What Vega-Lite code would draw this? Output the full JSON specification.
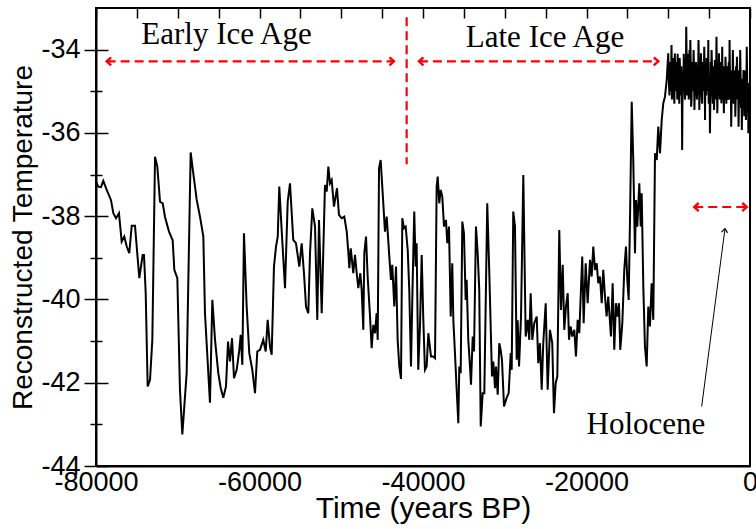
{
  "$schema": "https://vega.github.io/schema/vega-lite/v6.json",
  "width": 654,
  "height": 458,
  "autosize": "none",
  "padding": {"left": 96, "top": 8, "right": 6, "bottom": 63},
  "background": "white",
  "config": {
    "view": {"stroke": "black", "strokeWidth": 2},
    "axis": {
      "domainColor": "black",
      "domainWidth": 2,
      "tickColor": "black",
      "tickWidth": 1.5,
      "labelFont": "Liberation Sans",
      "labelFontSize": 27,
      "labelColor": "black",
      "titleFont": "Liberation Sans",
      "titleColor": "black",
      "titleFontWeight": "normal"
    }
  },
  "datasets": {
    "ice": [
      {"t":-80000,"v":-37.17},{"t":-79720,"v":-37.29},{"t":-79390,"v":-37.30},{"t":-79110,"v":-37.15},{"t":-78690,"v":-37.37},{"t":-78170,"v":-37.61},{"t":-77880,"v":-37.93},{"t":-77550,"v":-38.05},{"t":-77190,"v":-37.93},{"t":-76860,"v":-38.61},{"t":-76540,"v":-38.49},{"t":-76240,"v":-38.73},{"t":-75930,"v":-38.89},{"t":-75630,"v":-38.23},{"t":-75230,"v":-38.23},{"t":-74700,"v":-39.49},{"t":-74290,"v":-38.93},{"t":-74130,"v":-38.93},{"t":-73920,"v":-39.85},{"t":-73680,"v":-42.09},{"t":-73390,"v":-41.93},{"t":-73110,"v":-40.97},{"t":-72780,"v":-36.57},{"t":-72500,"v":-36.81},{"t":-72170,"v":-37.65},{"t":-71840,"v":-37.69},{"t":-71560,"v":-38.02},{"t":-71070,"v":-38.37},{"t":-70620,"v":-38.58},{"t":-70420,"v":-39.29},{"t":-70050,"v":-39.49},{"t":-69730,"v":-42.17},{"t":-69440,"v":-43.24},{"t":-68910,"v":-41.77},{"t":-68420,"v":-36.47},{"t":-68100,"v":-36.97},{"t":-67680,"v":-37.61},{"t":-67280,"v":-38.01},{"t":-66870,"v":-38.49},{"t":-66670,"v":-40.33},{"t":-66060,"v":-42.48},{"t":-65770,"v":-40.01},{"t":-65440,"v":-40.97},{"t":-65040,"v":-41.77},{"t":-64750,"v":-42.12},{"t":-64430,"v":-42.36},{"t":-64100,"v":-42.09},{"t":-63850,"v":-41.01},{"t":-63610,"v":-41.49},{"t":-63360,"v":-40.93},{"t":-63120,"v":-41.89},{"t":-62790,"v":-41.69},{"t":-62470,"v":-41.21},{"t":-62300,"v":-40.85},{"t":-62100,"v":-41.57},{"t":-61900,"v":-38.41},{"t":-61570,"v":-40.17},{"t":-61250,"v":-41.29},{"t":-60880,"v":-41.69},{"t":-60550,"v":-42.25},{"t":-60270,"v":-41.25},{"t":-59940,"v":-41.21},{"t":-59540,"v":-40.97},{"t":-59240,"v":-41.25},{"t":-59000,"v":-40.49},{"t":-58720,"v":-41.13},{"t":-58510,"v":-41.33},{"t":-58230,"v":-39.21},{"t":-57980,"v":-38.73},{"t":-57770,"v":-38.49},{"t":-57580,"v":-37.29},{"t":-57290,"v":-38.33},{"t":-56880,"v":-39.73},{"t":-56550,"v":-37.65},{"t":-56270,"v":-37.21},{"t":-55870,"v":-38.57},{"t":-55540,"v":-38.65},{"t":-55130,"v":-39.21},{"t":-54840,"v":-38.65},{"t":-54560,"v":-39.37},{"t":-54310,"v":-40.17},{"t":-54030,"v":-40.33},{"t":-53820,"v":-38.89},{"t":-53540,"v":-37.81},{"t":-53210,"v":-38.25},{"t":-52930,"v":-40.49},{"t":-52720,"v":-38.09},{"t":-52390,"v":-40.33},{"t":-51990,"v":-37.25},{"t":-51780,"v":-37.41},{"t":-51580,"v":-36.81},{"t":-51380,"v":-37.21},{"t":-51170,"v":-37.13},{"t":-50890,"v":-37.77},{"t":-50520,"v":-37.33},{"t":-50280,"v":-37.97},{"t":-49950,"v":-38.05},{"t":-49630,"v":-38.01},{"t":-49330,"v":-38.37},{"t":-49140,"v":-38.85},{"t":-49010,"v":-39.25},{"t":-48840,"v":-38.77},{"t":-48530,"v":-39.37},{"t":-48320,"v":-38.93},{"t":-48110,"v":-39.37},{"t":-47910,"v":-39.73},{"t":-47670,"v":-39.37},{"t":-47500,"v":-39.77},{"t":-47300,"v":-40.73},{"t":-47180,"v":-38.89},{"t":-46970,"v":-38.49},{"t":-46770,"v":-39.45},{"t":-46480,"v":-40.41},{"t":-46280,"v":-41.17},{"t":-46080,"v":-40.61},{"t":-45870,"v":-40.81},{"t":-45670,"v":-40.33},{"t":-45540,"v":-40.97},{"t":-45380,"v":-36.85},{"t":-45180,"v":-36.65},{"t":-44980,"v":-37.29},{"t":-44650,"v":-38.37},{"t":-44440,"v":-38.01},{"t":-44120,"v":-38.97},{"t":-43920,"v":-39.53},{"t":-43760,"v":-39.17},{"t":-43510,"v":-40.17},{"t":-43300,"v":-39.21},{"t":-43100,"v":-40.97},{"t":-42900,"v":-41.61},{"t":-42690,"v":-41.91},{"t":-42530,"v":-38.05},{"t":-42330,"v":-38.29},{"t":-42120,"v":-38.25},{"t":-41870,"v":-38.81},{"t":-41680,"v":-39.77},{"t":-41470,"v":-41.61},{"t":-41260,"v":-39.53},{"t":-41070,"v":-37.89},{"t":-40900,"v":-39.21},{"t":-40780,"v":-38.65},{"t":-40580,"v":-41.69},{"t":-40370,"v":-40.65},{"t":-40160,"v":-38.93},{"t":-39960,"v":-40.49},{"t":-39760,"v":-41.69},{"t":-39550,"v":-41.61},{"t":-39350,"v":-40.81},{"t":-39020,"v":-41.37},{"t":-38740,"v":-41.37},{"t":-38530,"v":-41.41},{"t":-38330,"v":-37.29},{"t":-38200,"v":-37.05},{"t":-38010,"v":-37.69},{"t":-37840,"v":-37.37},{"t":-37640,"v":-37.53},{"t":-37430,"v":-38.25},{"t":-37190,"v":-38.09},{"t":-37030,"v":-38.65},{"t":-36820,"v":-38.25},{"t":-36610,"v":-40.41},{"t":-36420,"v":-39.13},{"t":-36290,"v":-40.49},{"t":-36090,"v":-41.29},{"t":-35880,"v":-42.17},{"t":-35680,"v":-42.97},{"t":-35560,"v":-41.61},{"t":-35390,"v":-41.77},{"t":-35190,"v":-38.13},{"t":-34990,"v":-38.41},{"t":-34780,"v":-40.01},{"t":-34660,"v":-39.53},{"t":-34460,"v":-40.97},{"t":-34250,"v":-41.61},{"t":-34130,"v":-42.05},{"t":-33920,"v":-40.89},{"t":-33760,"v":-41.25},{"t":-33520,"v":-38.25},{"t":-33310,"v":-38.89},{"t":-33120,"v":-39.77},{"t":-32940,"v":-43.05},{"t":-32700,"v":-42.25},{"t":-32500,"v":-42.25},{"t":-32140,"v":-37.69},{"t":-31890,"v":-39.37},{"t":-31560,"v":-41.85},{"t":-31400,"v":-41.49},{"t":-31190,"v":-42.13},{"t":-31070,"v":-41.61},{"t":-30860,"v":-42.29},{"t":-30670,"v":-41.05},{"t":-30500,"v":-41.21},{"t":-30340,"v":-41.45},{"t":-30090,"v":-42.57},{"t":-29760,"v":-42.36},{"t":-29520,"v":-42.25},{"t":-29270,"v":-41.29},{"t":-29150,"v":-41.69},{"t":-28960,"v":-37.89},{"t":-28750,"v":-38.25},{"t":-28540,"v":-41.45},{"t":-28420,"v":-40.5},{"t":-28250,"v":-41.61},{"t":-28010,"v":-40.41},{"t":-27730,"v":-37.01},{"t":-27440,"v":-40.89},{"t":-27190,"v":-40.49},{"t":-27000,"v":-40.97},{"t":-26830,"v":-39.85},{"t":-26630,"v":-40.97},{"t":-26390,"v":-40.57},{"t":-26090,"v":-40.41},{"t":-25900,"v":-41.53},{"t":-25690,"v":-41.05},{"t":-25480,"v":-42.17},{"t":-25290,"v":-41.05},{"t":-24990,"v":-40.09},{"t":-24750,"v":-42.17},{"t":-24470,"v":-40.73},{"t":-24190,"v":-41.05},{"t":-23980,"v":-42.73},{"t":-23770,"v":-42.01},{"t":-23570,"v":-41.85},{"t":-23330,"v":-38.33},{"t":-23120,"v":-40.25},{"t":-22910,"v":-39.17},{"t":-22720,"v":-40.73},{"t":-22510,"v":-40.17},{"t":-22300,"v":-39.85},{"t":-22140,"v":-40.97},{"t":-21940,"v":-40.65},{"t":-21740,"v":-40.89},{"t":-21490,"v":-40.73},{"t":-21290,"v":-41.37},{"t":-21080,"v":-40.49},{"t":-20880,"v":-40.81},{"t":-20680,"v":-39.77},{"t":-20520,"v":-38.97},{"t":-20350,"v":-40.57},{"t":-20100,"v":-39.13},{"t":-19860,"v":-40.09},{"t":-19570,"v":-39.05},{"t":-19370,"v":-39.45},{"t":-19170,"v":-38.73},{"t":-18960,"v":-39.29},{"t":-18750,"v":-39.13},{"t":-18560,"v":-39.61},{"t":-18350,"v":-39.45},{"t":-18140,"v":-40.09},{"t":-17950,"v":-39.29},{"t":-17740,"v":-39.93},{"t":-17540,"v":-40.41},{"t":-17340,"v":-39.93},{"t":-17010,"v":-40.89},{"t":-16800,"v":-39.61},{"t":-16600,"v":-41.21},{"t":-16400,"v":-40.09},{"t":-16190,"v":-40.41},{"t":-16030,"v":-40.09},{"t":-15870,"v":-41.21},{"t":-15620,"v":-40.57},{"t":-15380,"v":-39.29},{"t":-15170,"v":-38.73},{"t":-15010,"v":-39.53},{"t":-14840,"v":-40.01},{"t":-14680,"v":-38.09},{"t":-14470,"v":-35.25},{"t":-14280,"v":-36.65},{"t":-14070,"v":-38.89},{"t":-13950,"v":-37.61},{"t":-13790,"v":-38.25},{"t":-13540,"v":-37.21},{"t":-13370,"v":-38.25},{"t":-13250,"v":-37.45},{"t":-13050,"v":-39.69},{"t":-12850,"v":-41.13},{"t":-12640,"v":-41.61},{"t":-12440,"v":-40.17},{"t":-12240,"v":-40.65},{"t":-12030,"v":-39.61},{"t":-11830,"v":-40.49},{"t":-11620,"v":-36.49},{"t":-11410,"v":-36.65},{"t":-11220,"v":-35.85},{"t":-11010,"v":-36.49},{"t":-10800,"v":-35.69},{"t":-10610,"v":-35.29},{"t":-10400,"v":-35.13},{"t":-10190,"v":-34.73},{"t":-10000,"v":-34.09},
      {"t":-9950,"v":-34.6},{"t":-9900,"v":-34.9},{"t":-9850,"v":-35.1},{"t":-9800,"v":-34.3},{"t":-9750,"v":-34.5},{"t":-9700,"v":-35.0},{"t":-9650,"v":-34.7},{"t":-9600,"v":-33.89},{"t":-9550,"v":-35.2},{"t":-9500,"v":-34.8},{"t":-9450,"v":-34.2},{"t":-9400,"v":-34.4},{"t":-9350,"v":-34.7},{"t":-9300,"v":-35.1},{"t":-9250,"v":-35.3},{"t":-9200,"v":-34.09},{"t":-9150,"v":-34.4},{"t":-9100,"v":-34.9},{"t":-9050,"v":-35.0},{"t":-9000,"v":-34.3},{"t":-8950,"v":-34.5},{"t":-8900,"v":-35.2},{"t":-8850,"v":-34.1},{"t":-8800,"v":-34.5},{"t":-8750,"v":-34.6},{"t":-8700,"v":-35.0},{"t":-8650,"v":-35.3},{"t":-8600,"v":-34.2},{"t":-8550,"v":-34.5},{"t":-8500,"v":-34.89},{"t":-8450,"v":-35.1},{"t":-8400,"v":-34.4},{"t":-8350,"v":-34.7},{"t":-8300,"v":-36.41},{"t":-8250,"v":-35.0},{"t":-8200,"v":-34.6},{"t":-8150,"v":-34.9},{"t":-8100,"v":-34.1},{"t":-8050,"v":-34.4},{"t":-8000,"v":-35.0},{"t":-7950,"v":-35.2},{"t":-7900,"v":-34.3},{"t":-7850,"v":-34.8},{"t":-7800,"v":-33.45},{"t":-7750,"v":-34.2},{"t":-7700,"v":-35.1},{"t":-7650,"v":-34.8},{"t":-7600,"v":-34.4},{"t":-7550,"v":-34.1},{"t":-7500,"v":-35.2},{"t":-7450,"v":-35.1},{"t":-7400,"v":-34.0},{"t":-7350,"v":-34.9},{"t":-7300,"v":-33.77},{"t":-7250,"v":-34.3},{"t":-7200,"v":-35.37},{"t":-7150,"v":-35.2},{"t":-7100,"v":-34.5},{"t":-7050,"v":-34.3},{"t":-7000,"v":-35.0},{"t":-6950,"v":-34.8},{"t":-6900,"v":-34.01},{"t":-6850,"v":-34.4},{"t":-6800,"v":-35.45},{"t":-6750,"v":-35.0},{"t":-6700,"v":-34.6},{"t":-6650,"v":-35.1},{"t":-6600,"v":-34.3},{"t":-6550,"v":-34.5},{"t":-6500,"v":-35.2},{"t":-6450,"v":-35.0},{"t":-6400,"v":-34.49},{"t":-6350,"v":-34.9},{"t":-6300,"v":-33.77},{"t":-6250,"v":-34.3},{"t":-6200,"v":-35.45},{"t":-6150,"v":-35.1},{"t":-6100,"v":-34.6},{"t":-6050,"v":-34.8},{"t":-6000,"v":-34.09},{"t":-5950,"v":-34.4},{"t":-5900,"v":-35.1},{"t":-5850,"v":-35.3},{"t":-5800,"v":-34.5},{"t":-5750,"v":-34.3},{"t":-5700,"v":-34.89},{"t":-5650,"v":-35.0},{"t":-5600,"v":-33.93},{"t":-5550,"v":-34.4},{"t":-5500,"v":-35.69},{"t":-5450,"v":-34.3},{"t":-5400,"v":-34.6},{"t":-5350,"v":-35.1},{"t":-5300,"v":-34.2},{"t":-5250,"v":-34.5},{"t":-5200,"v":-35.0},{"t":-5150,"v":-34.8},{"t":-5100,"v":-33.77},{"t":-5050,"v":-35.3},{"t":-5000,"v":-34.9},{"t":-4950,"v":-34.6},{"t":-4900,"v":-36.01},{"t":-4850,"v":-35.2},{"t":-4800,"v":-34.3},{"t":-4750,"v":-35.0},{"t":-4700,"v":-34.01},{"t":-4650,"v":-34.4},{"t":-4600,"v":-35.1},{"t":-4550,"v":-35.3},{"t":-4500,"v":-34.5},{"t":-4450,"v":-34.4},{"t":-4400,"v":-35.45},{"t":-4350,"v":-35.0},{"t":-4300,"v":-34.25},{"t":-4250,"v":-35.2},{"t":-4200,"v":-34.8},{"t":-4150,"v":-34.9},{"t":-4100,"v":-33.69},{"t":-4050,"v":-34.5},{"t":-4000,"v":-35.53},{"t":-3950,"v":-35.0},{"t":-3900,"v":-34.6},{"t":-3850,"v":-35.1},{"t":-3800,"v":-34.09},{"t":-3750,"v":-34.5},{"t":-3700,"v":-35.2},{"t":-3650,"v":-34.3},{"t":-3600,"v":-34.7},{"t":-3550,"v":-34.6},{"t":-3500,"v":-35.29},{"t":-3450,"v":-35.0},{"t":-3400,"v":-33.93},{"t":-3350,"v":-35.2},{"t":-3300,"v":-34.9},{"t":-3250,"v":-34.4},{"t":-3200,"v":-35.53},{"t":-3150,"v":-34.9},{"t":-3100,"v":-34.4},{"t":-3050,"v":-35.2},{"t":-3000,"v":-34.17},{"t":-2950,"v":-34.5},{"t":-2900,"v":-35.3},{"t":-2850,"v":-35.1},{"t":-2800,"v":-34.6},{"t":-2750,"v":-34.4},{"t":-2700,"v":-35.21},{"t":-2650,"v":-35.0},{"t":-2600,"v":-34.3},{"t":-2550,"v":-35.2},{"t":-2500,"v":-33.77},{"t":-2450,"v":-34.6},{"t":-2400,"v":-35.0},{"t":-2350,"v":-34.7},{"t":-2300,"v":-35.85},{"t":-2250,"v":-35.2},{"t":-2200,"v":-34.5},{"t":-2150,"v":-35.0},{"t":-2100,"v":-34.01},{"t":-2050,"v":-34.5},{"t":-2000,"v":-35.3},{"t":-1950,"v":-35.1},{"t":-1900,"v":-34.7},{"t":-1850,"v":-34.5},{"t":-1800,"v":-35.61},{"t":-1750,"v":-35.2},{"t":-1700,"v":-34.4},{"t":-1650,"v":-34.9},{"t":-1600,"v":-34.17},{"t":-1550,"v":-34.6},{"t":-1500,"v":-35.2},{"t":-1450,"v":-34.5},{"t":-1400,"v":-35.85},{"t":-1350,"v":-35.2},{"t":-1300,"v":-34.6},{"t":-1250,"v":-35.1},{"t":-1200,"v":-34.01},{"t":-1150,"v":-34.6},{"t":-1100,"v":-35.4},{"t":-1050,"v":-34.7},{"t":-1000,"v":-35.93},{"t":-950,"v":-35.3},{"t":-900,"v":-34.8},{"t":-850,"v":-35.4},{"t":-800,"v":-34.49},{"t":-750,"v":-34.7},{"t":-700,"v":-35.6},{"t":-650,"v":-34.6},{"t":-600,"v":-35.0},{"t":-550,"v":-34.5},{"t":-500,"v":-35.69},{"t":-450,"v":-35.3},{"t":-400,"v":-33.93},{"t":-350,"v":-34.6},{"t":-300,"v":-35.5},{"t":-250,"v":-34.8},{"t":-200,"v":-36.01},{"t":-150,"v":-35.7},{"t":-100,"v":-35.3},{"t":-50,"v":-34.9},{"t":0,"v":-36.17}
    ],
    "redlines": [
      {"x1": -78700, "x2": -43550, "y1": -34.28, "y2": -34.28},
      {"x1": -40500, "x2": -11220, "y1": -34.28, "y2": -34.28},
      {"x1": -6820, "x2": -400, "y1": -37.78, "y2": -37.78},
      {"x1": -42000, "x2": -42000, "y1": -33.22, "y2": -36.75}
    ],
    "heads": [
      {"x": -78700, "y": -34.28, "dir": "left"},
      {"x": -43550, "y": -34.28, "dir": "right"},
      {"x": -40500, "y": -34.28, "dir": "left"},
      {"x": -11220, "y": -34.28, "dir": "right"},
      {"x": -6820, "y": -37.78, "dir": "left"},
      {"x": -400, "y": -37.78, "dir": "right"}
    ],
    "pointer": [
      {"x1": -5910, "y1": -42.57, "x2": -3060, "y2": -38.30}
    ],
    "labels": [
      {"x": -64037, "y": -33.87, "text": "Early Ice Age"},
      {"x": -25078, "y": -33.93, "text": "Late Ice Age"},
      {"x": -12724, "y": -43.24, "text": "Holocene"}
    ]
  },
  "layer": [
    {
      "data": {"name": "ice"},
      "mark": {"type": "line", "color": "black", "strokeWidth": 2},
      "encoding": {
        "x": {
          "field": "t", "type": "quantitative",
          "scale": {"domain": [-80000, 0], "nice": false, "zero": false},
          "axis": {
            "orient": "bottom",
            "title": "Time (years BP)",
            "titleFontSize": 30,
            "titlePadding": -2,
            "values": [-80000,-75000,-70000,-65000,-60000,-55000,-50000,-45000,-40000,-35000,-30000,-25000,-20000,-15000,-10000,-5000,0],
            "labelExpr": "datum.value % 20000 === 0 ? '' + datum.value : ''",
            "ticks": false,
            "labelPadding": 3,
            "labelFlush": false,
            "labelOverlap": false,
            "grid": true,
            "gridColor": "black",
            "gridWidth": 1.5,
            "gridOpacity": 1,
            "gridDash": [10, 5000]
          }
        },
        "y": {
          "field": "v", "type": "quantitative",
          "scale": {"domain": [-44, -33], "nice": false, "zero": false},
          "axis": {
            "orient": "left",
            "title": "Reconstructed Temperature",
            "titleFontSize": 28,
            "titlePadding": 3,
            "values": [-44,-43,-42,-41,-40,-39,-38,-37,-36,-35,-34],
            "labelExpr": "datum.value % 2 === 0 ? '' + datum.value : ''",
            "tickSize": {"condition": {"test": "datum.value % 2 === 0", "value": 12}, "value": 6},
            "labelPadding": 4,
            "labelFlush": false,
            "labelOverlap": false,
            "grid": true,
            "gridColor": "black",
            "gridWidth": 1.5,
            "gridOpacity": 1,
            "gridDash": {"condition": {"test": "datum.value % 2 === 0", "value": [12, 5000]}, "value": [6, 5000]}
          }
        }
      }
    },
    {
      "data": {"name": "redlines"},
      "mark": {"type": "rule", "color": "#ff0000", "strokeWidth": 2.2, "strokeDash": [9, 5]},
      "encoding": {
        "x": {"field": "x1", "type": "quantitative"},
        "x2": {"field": "x2"},
        "y": {"field": "y1", "type": "quantitative"},
        "y2": {"field": "y2"}
      }
    },
    {
      "data": {"name": "heads"},
      "transform": [{"filter": "datum.dir === 'left'"}],
      "mark": {"type": "point", "shape": "M1,-0.9L0,0L1,0.9", "size": 80, "filled": false, "color": "#ff0000", "strokeWidth": 2.4, "opacity": 1},
      "encoding": {
        "x": {"field": "x", "type": "quantitative"},
        "y": {"field": "y", "type": "quantitative"}
      }
    },
    {
      "data": {"name": "heads"},
      "transform": [{"filter": "datum.dir === 'right'"}],
      "mark": {"type": "point", "shape": "M-1,-0.9L0,0L-1,0.9", "size": 80, "filled": false, "color": "#ff0000", "strokeWidth": 2.4, "opacity": 1},
      "encoding": {
        "x": {"field": "x", "type": "quantitative"},
        "y": {"field": "y", "type": "quantitative"}
      }
    },
    {
      "data": {"name": "pointer"},
      "mark": {"type": "rule", "color": "black", "strokeWidth": 1},
      "encoding": {
        "x": {"field": "x1", "type": "quantitative"},
        "x2": {"field": "x2"},
        "y": {"field": "y1", "type": "quantitative"},
        "y2": {"field": "y2"}
      }
    },
    {
      "data": {"name": "pointer"},
      "mark": {"type": "point", "shape": "M-0.8,1L0,0L0.8,1", "size": 60, "filled": false, "color": "black", "strokeWidth": 1.2, "opacity": 1, "angle": 7.5},
      "encoding": {
        "x": {"field": "x2", "type": "quantitative"},
        "y": {"field": "y2", "type": "quantitative"}
      }
    },
    {
      "data": {"name": "labels"},
      "mark": {"type": "text", "font": "Liberation Serif", "fontSize": 31, "color": "black", "align": "center", "baseline": "alphabetic"},
      "encoding": {
        "x": {"field": "x", "type": "quantitative"},
        "y": {"field": "y", "type": "quantitative"},
        "text": {"field": "text"}
      }
    }
  ]
}
